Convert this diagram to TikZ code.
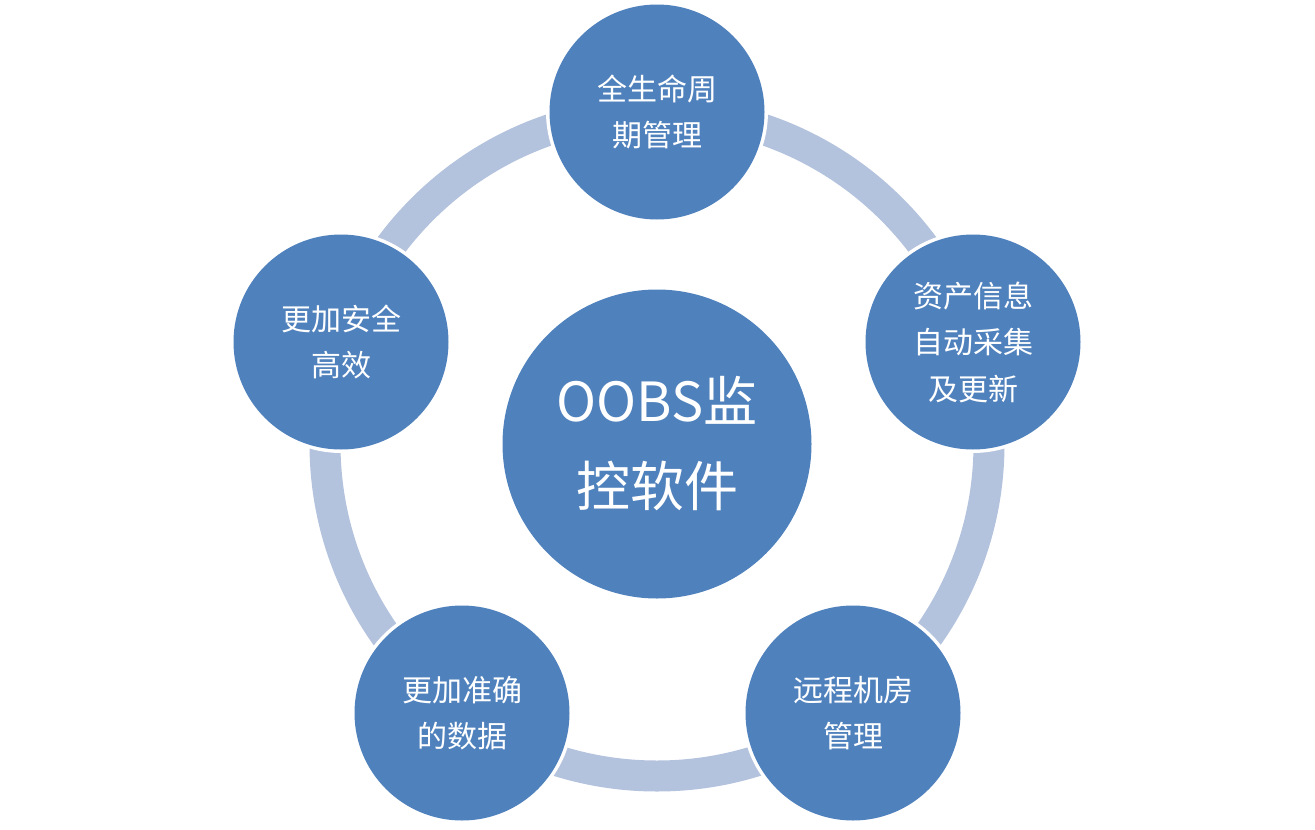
\documentclass[tikz,border=0pt]{standalone}
\usepackage{fontspec}
\newfontfamily\cjk{Noto Sans CJK SC}
\definecolor{nodeblue}{HTML}{4F81BD}
\definecolor{ringblue}{HTML}{B3C2DD}
\begin{document}
\begin{tikzpicture}[x=1pt,y=-1pt,
  outerc/.style={circle,fill=nodeblue,minimum size=215pt,inner sep=0pt,
    text=white,align=center,font=\cjk\fontsize{30}{46.5}\selectfont},
  gapc/.style={circle,fill=white,minimum size=222pt,inner sep=0pt},
  centerc/.style={circle,fill=nodeblue,minimum size=309pt,inner sep=0pt,
    text=white,align=center,font=\cjk\fontsize{54}{85}\selectfont}]
\useasboundingbox (0,0) rectangle (1315,830);
\coordinate (o) at (657,444);
\draw[ringblue,line width=31pt] (o) circle[radius=332pt];
\foreach \p in {(657,112),(973,342),(853,713),(462,713),(341,342)}
  \node[gapc] at \p {};
\node[outerc] (top) at (657,112) {全生命周\\期管理};
\node[outerc] (right) at (973,342) {资产信息\\自动采集\\及更新};
\node[outerc] (br) at (853,713) {远程机房\\管理};
\node[outerc] (bl) at (462,713) {更加准确\\的数据};
\node[outerc] (left) at (341,342) {更加安全\\高效};
\node[centerc] (c) at (o) {OOBS监\\控软件};
\end{tikzpicture}
\end{document}
